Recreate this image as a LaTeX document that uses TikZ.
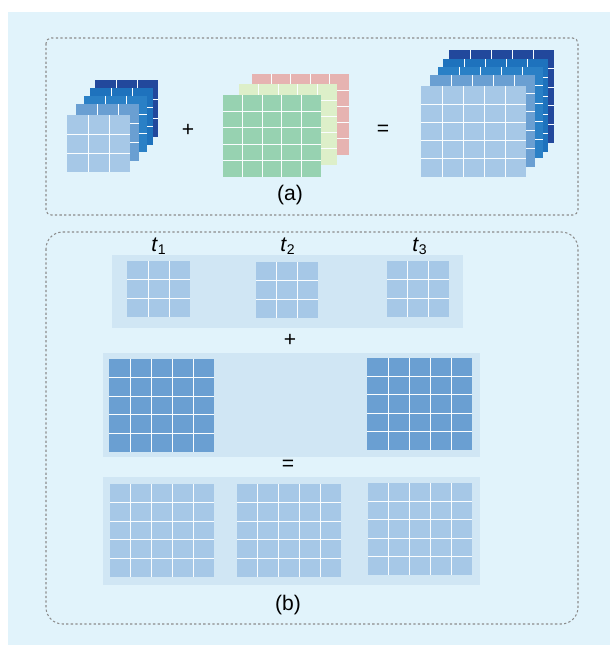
\documentclass[tikz,border=0pt]{standalone}
\usepackage{fontspec}
\setmainfont{Liberation Sans}

\definecolor{panelbg}{HTML}{E1F3FB}
\definecolor{band}{HTML}{D0E6F4}
\definecolor{frame}{HTML}{8C8C8C}
\definecolor{paleblue}{HTML}{A6C8E7}
\definecolor{midblue}{HTML}{6A9FD2}
\definecolor{blueA}{HTML}{2A80C6}
\definecolor{blueB}{HTML}{1E72BD}
\definecolor{navy}{HTML}{22489C}
\definecolor{mint}{HTML}{97D2B1}
\definecolor{lime}{HTML}{DDEFC9}
\definecolor{rose}{HTML}{E6B3B1}

% one tile: colour, corner (x0,y0), corner (x1,y1), cells per side
\newcommand{\gridtile}[6]{%
  \fill[#1] (#2,#3) rectangle (#4,#5);
  \pgfmathtruncatemacro{\ncut}{#6-1}
  \foreach \k in {1,...,\ncut} {
    \draw[cellline] ({#2+\k*(#4-#2)/#6},#3) -- ({#2+\k*(#4-#2)/#6},#5);
    \draw[cellline] (#2,{#3+\k*(#5-#3)/#6}) -- (#4,{#3+\k*(#5-#3)/#6});
  }
}

\tikzset{
  cellline/.style={white!85!panelbg, line width=0.35pt},
  dashframe/.style={frame, line width=0.6pt, dash pattern=on 1.3pt off 1.3pt},
  lbl/.style={font=\fontsize{12}{14}\selectfont, inner sep=0pt}
}

\begin{document}
\begin{tikzpicture}[x=0.02cm, y=-0.02cm]
\useasboundingbox (0,0) rectangle (610,645);
% Background
    \fill[panelbg] (8,12) rectangle (610,645);
% Frames
    \draw[dashframe, rounded corners=3pt] (46,38) rectangle (578,215);
    \draw[dashframe, rounded corners=9.5pt] (46,232) rectangle (578,624);
% (a) first stack
    \gridtile{navy}{95}{80}{158}{137}{3}
    \gridtile{blueB}{90}{88}{153}{145}{3}
    \gridtile{blueA}{84}{96}{147}{152}{3}
    \gridtile{midblue}{76}{104}{139}{161}{3}
    \gridtile{paleblue}{67}{115}{130}{172}{3}
% (a) second stack
    \gridtile{rose}{252}{74}{349}{155}{5}
    \gridtile{lime}{239}{84}{337}{165}{5}
    \gridtile{mint}{223}{95}{321}{177}{5}
% (a) result stack
    \gridtile{navy}{449}{50}{554}{143}{5}
    \gridtile{blueB}{443}{59}{548}{152}{5}
    \gridtile{blueA}{438}{67}{543}{158}{5}
    \gridtile{midblue}{430}{75}{535}{167}{5}
    \gridtile{paleblue}{421}{86}{526}{177}{5}
    \node[lbl] (plusA) at (188,130) {+};
    \node[lbl] (eqA) at (383,130) {=};
    \node[lbl] (capA) at (290,195) {(a)};
% (b) bands
    \fill[band] (112,255) rectangle (463,328);
    \fill[band] (103,353) rectangle (480,457);
    \fill[band] (103,477) rectangle (480,585);
% (b) time steps
    \gridtile{paleblue}{127}{261}{190}{317}{3}
    \gridtile{paleblue}{256}{262}{318}{318}{3}
    \gridtile{paleblue}{387}{261}{449}{317}{3}
    \node[lbl] (tone) at (159,246) {\textit{t}\textsubscript{1}};
    \node[lbl] (ttwo) at (288,246) {\textit{t}\textsubscript{2}};
    \node[lbl] (tthree) at (420,246) {\textit{t}\textsubscript{3}};
    \node[lbl] (plusB) at (290,340) {+};
% (b) added maps
    \gridtile{midblue}{109}{359}{214}{452}{5}
    \gridtile{midblue}{367}{358}{472}{450}{5}
    \node[lbl] (eqB) at (288,465) {=};
% (b) result
    \gridtile{paleblue}{110}{484}{214}{577}{5}
    \gridtile{paleblue}{237}{484}{341}{577}{5}
    \gridtile{paleblue}{368}{483}{472}{575}{5}
    \node[lbl] (capB) at (288,605) {(b)};
\end{tikzpicture}
\end{document}
